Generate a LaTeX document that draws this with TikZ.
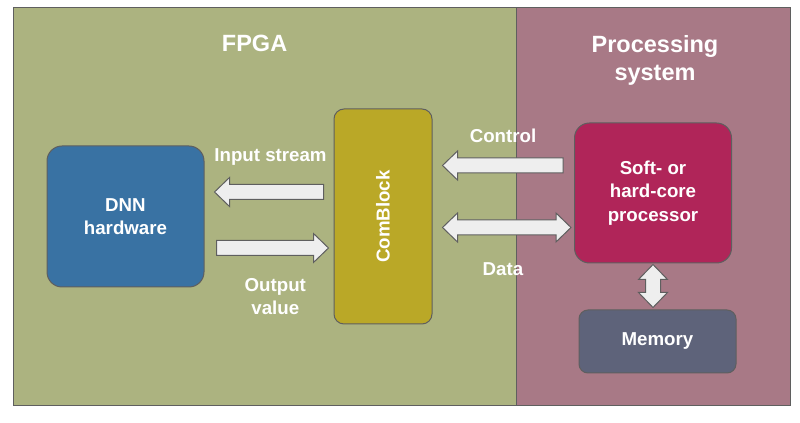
\documentclass[tikz,border=0pt]{standalone}
\usepackage{fontspec}
\setmainfont{Liberation Sans}
\usepackage{tikz}
\usetikzlibrary{calc}
\definecolor{fpgagreen}{RGB}{172,179,128}
\definecolor{psmauve}{RGB}{168,121,134}
\definecolor{dnnblue}{RGB}{57,114,163}
\definecolor{comolive}{RGB}{186,168,39}
\definecolor{cpured}{RGB}{176,37,89}
\definecolor{memslate}{RGB}{94,99,122}
\definecolor{arrowfill}{RGB}{238,238,238}
\definecolor{edgegrey}{RGB}{95,95,95}
\tikzstyle{block} = [draw=edgegrey, line width=0.5pt, text=white, align=center, inner sep=0pt, font=\fontsize{9.35}{11.65}\selectfont\bfseries]
\tikzstyle{lbl} = [text=white, align=center, inner sep=0pt, font=\fontsize{9.35}{11.65}\selectfont\bfseries]
\tikzstyle{heading} = [text=white, align=center, inner sep=0pt, font=\fontsize{11.75}{14}\selectfont\bfseries]
\tikzstyle{alongarr} = [shift={(\p1)}, rotate=\n1]
\tikzstyle{fatarrow} = [fill=arrowfill, draw=edgegrey, line width=0.5pt, to path={
  let \p1=(\tikztostart), \p2=(\tikztotarget),
      \n1={atan2(\y2-\y1,\x2-\x1)}, \n2={veclen(\x2-\x1,\y2-\y1)} in
  ([alongarr]0pt,3.75pt) -- ([alongarr]{\n2-7.5pt},3.75pt) -- ([alongarr]{\n2-7.5pt},7.25pt)
  -- (\p2) -- ([alongarr]{\n2-7.5pt},-7.25pt) -- ([alongarr]{\n2-7.5pt},-3.75pt)
  -- ([alongarr]0pt,-3.75pt) -- cycle}]
\tikzstyle{fatdouble} = [fill=arrowfill, draw=edgegrey, line width=0.5pt, to path={
  let \p1=(\tikztostart), \p2=(\tikztotarget),
      \n1={atan2(\y2-\y1,\x2-\x1)}, \n2={veclen(\x2-\x1,\y2-\y1)} in
  (\p1) -- ([alongarr]7.5pt,7.25pt) -- ([alongarr]7.5pt,3.75pt) -- ([alongarr]{\n2-7.5pt},3.75pt)
  -- ([alongarr]{\n2-7.5pt},7.25pt) -- (\p2) -- ([alongarr]{\n2-7.5pt},-7.25pt)
  -- ([alongarr]{\n2-7.5pt},-3.75pt) -- ([alongarr]7.5pt,-3.75pt) -- ([alongarr]7.5pt,-7.25pt) -- cycle}]

\begin{document}
\begin{tikzpicture}[x=0.5pt, y=0.5pt]
\useasboundingbox (0,0) rectangle (800,423);
% Two regions
\fill[fpgagreen] (13,17) rectangle (516,415);
\fill[psmauve] (516,17) rectangle (790,415);
\draw[edgegrey, line width=0.5pt] (13,17) rectangle (790,415);
\draw[edgegrey, line width=0.5pt] (516,17) -- (516,415);

\node[heading, anchor=base] (fpgat) at (254.6,371) {FPGA};
\node[heading] (pst) at (655,363) {Processing\\system};

% Blocks
\node[block, fill=dnnblue, rounded corners=7.5pt, minimum width=78.5pt, minimum height=70.5pt] (dnn) at (125.5,206.5) {DNN\\hardware};
\node[block, fill=comolive, rounded corners=5pt, minimum width=49pt, minimum height=107.5pt,
      label={[lbl, rotate=90]center:ComBlock}] (comb) at (383,206.5) {};
\node[block, fill=cpured, rounded corners=7.5pt, minimum width=78.5pt, minimum height=70pt] (proc) at (653,230) {Soft- or\\hard-core\\processor};
\node[block, fill=memslate, rounded corners=4.5pt, minimum width=78.5pt, minimum height=31.5pt] (mem) at (657.5,81.5) {Memory};

% Block arrows
\draw[fatarrow] ([xshift=-5pt,yshift=12.25pt]comb.west) to ([xshift=5pt,yshift=12.25pt]dnn.east);
\draw[fatarrow] ([xshift=6pt,yshift=-15.75pt]dnn.east) to ([xshift=-2.5pt,yshift=-15.75pt]comb.west);
\draw[fatarrow] ([xshift=-5.5pt,yshift=13.75pt]proc.west) to ([xshift=5pt,yshift=25.5pt]comb.east);
\draw[fatdouble] ([xshift=5pt,yshift=-5.5pt]comb.east) to ([xshift=-1.5pt,yshift=-17.25pt]proc.west);
\draw[fatdouble] ([yshift=-0.5pt]proc.south) to ([xshift=-2.25pt,yshift=1pt]mem.north);

\node[lbl, anchor=base] (inl) at (270.5,261.3) {Input stream};
\node[lbl] (outl) at (275.3,126.2) {Output\\value};
\node[lbl, anchor=base] (ctrll) at (503,280.3) {Control};
\node[lbl, anchor=base] (datal) at (503,147) {Data};
\end{tikzpicture}
\end{document}
